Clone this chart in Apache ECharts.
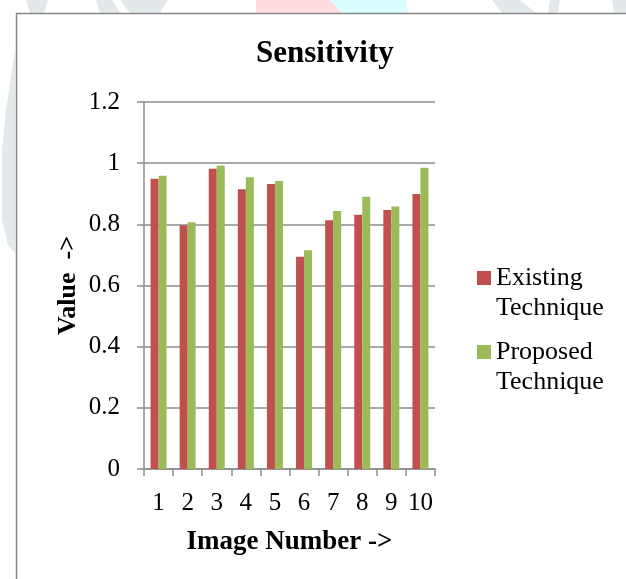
<!DOCTYPE html>
<html>
<head>
<meta charset="utf-8">
<script src="https://cdn.jsdelivr.net/npm/echarts@6/dist/echarts.min.js"></script>
<style>
html,body{margin:0;padding:0;background:#fff;}
#main{width:626px;height:579px;}
</style>
</head>
<body>
<div id="main"></div>
<script>
const categories = ['1','2','3','4','5','6','7','8','9','10'];
const existing = [0.949, 0.797, 0.982, 0.915, 0.932, 0.694, 0.813, 0.831, 0.847, 0.899];
const proposed = [0.959, 0.807, 0.992, 0.954, 0.942, 0.715, 0.844, 0.890, 0.858, 0.985];
const seriesNames = ['Existing Technique', 'Proposed Technique'];
const yMin = 0, yMax = 1.2, yStep = 0.2;

const serif = '"Liberation Serif", "Times New Roman", serif';
const gray = '#8c8c8c';

const chart = echarts.init(document.getElementById('main'), null, {renderer: 'canvas'});
chart.setOption({
  backgroundColor: '#fff',
  animation: false,
  title: {
    text: 'Sensitivity',
    left: 251, top: 33,
    textStyle: {fontFamily: serif, fontWeight: 'bold', fontSize: 31, color: '#000'}
  },
  legend: {
    orient: 'vertical',
    left: 477, top: 263, padding: 0,
    itemWidth: 14, itemHeight: 44, itemGap: 14,
    icon: 'path://M0,0L14,0L14,14L0,14Z M0,43.9L0.1,44L0,44Z',
    formatter: n => n.replace(' ', '\n'),
    textStyle: {fontFamily: serif, fontSize: 26, lineHeight: 30, color: '#000'},
    data: seriesNames
  },
  grid: {left: 144, right: 191, top: 102, bottom: 110, outerBoundsMode: 'none', containLabel: false},
  xAxis: {
    type: 'category', data: categories,
    name: 'Image Number ->', nameLocation: 'middle', nameGap: 60,
    nameTextStyle: {fontFamily: serif, fontWeight: 'bold', fontSize: 27, color: '#000'},
    axisLine: {lineStyle: {color: gray, width: 1.5}},
    axisTick: {show: true, length: 7, lineStyle: {color: gray, width: 1.5}},
    axisLabel: {fontFamily: serif, fontSize: 25, color: '#000', margin: 22, interval: 0}
  },
  yAxis: {
    type: 'value', min: yMin, max: yMax, interval: yStep,
    name: 'Value  ->', nameLocation: 'middle', nameGap: 63, nameRotate: 90,
    nameTextStyle: {fontFamily: serif, fontWeight: 'bold', fontSize: 26, color: '#000'},
    axisLine: {show: true, lineStyle: {color: gray, width: 1.5}},
    axisTick: {show: true, length: 7, lineStyle: {color: gray, width: 1.5}},
    axisLabel: {fontFamily: serif, fontSize: 25, color: '#000', margin: 24},
    splitLine: {show: true, lineStyle: {color: gray, width: 1.5}}
  },
  series: [
    {name: seriesNames[0], type: 'bar', data: existing, barWidth: 8, barGap: '0%',
     itemStyle: {color: '#C0504D'}},
    {name: seriesNames[1], type: 'bar', data: proposed, barWidth: 8, barGap: '0%',
     itemStyle: {color: '#9BBB59'}}
  ],
  graphic: [
    {type: 'polygon', z: -10, silent: true, shape: {points: [[26,0],[48,0],[44,13],[30,13]]}, style: {fill: '#e3e8ea'}},
    {type: 'polygon', z: -10, silent: true, shape: {points: [[96,0],[112,0],[120,13],[100,13]]}, style: {fill: '#e3e8ea'}},
    {type: 'polygon', z: -10, silent: true, shape: {points: [[120,0],[168,0],[160,13],[130,13]]}, style: {fill: '#e3e8ea'}},
    {type: 'polygon', z: -10, silent: true, shape: {points: [[256,0],[330,0],[342,13],[256,13]]}, style: {fill: '#ffdcdf'}},
    {type: 'polygon', z: -10, silent: true, shape: {points: [[330,0],[406,0],[408,13],[342,13]]}, style: {fill: '#dafdff'}},
    {type: 'polygon', z: -10, silent: true, shape: {points: [[492,0],[520,0],[536,13],[502,13]]}, style: {fill: '#e3e8ea'}},
    {type: 'polygon', z: -10, silent: true, shape: {points: [[550,0],[560,0],[558,13],[548,13]]}, style: {fill: '#e3e8ea'}},
    {type: 'polygon', z: -10, silent: true, shape: {points: [[612,0],[626,0],[626,13],[614,13]]}, style: {fill: '#e3e8ea'}},
    {type: 'polygon', z: -10, silent: true, shape: {points: [[15,50],[12,70],[6,110],[2,150],[2,220],[8,245],[15,253]]}, style: {fill: '#e3e8ea'}},
    {type: 'rect', z: -5, silent: true, shape: {x: 16.5, y: 13.5, width: 800, height: 800},
     style: {fill: '#fff', stroke: '#888', lineWidth: 1.5}}
  ]
});
</script>
</body>
</html>
